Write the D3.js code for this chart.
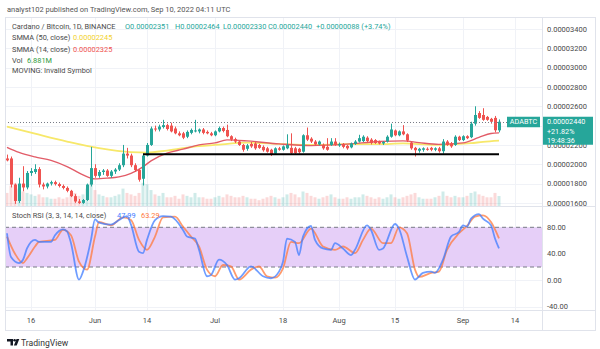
<!DOCTYPE html>
<html><head><meta charset="utf-8">
<script src="https://cdn.jsdelivr.net/npm/d3@7"></script>
<style>body{margin:0;background:#fff}text{font-family:Roboto,"Liberation Sans",sans-serif}</style>
</head><body><svg id="c" width="600" height="349"></svg>
<script>
// Prices in units of 1e-8 BTC (satoshi); daily candles from 2022-05-10
const startDate = "2022-05-10";
const opens = [2060,2060,1790,1620,1800,1760,1910,1920,1950,1790,1770,1800,1815,1795,1775,1755,1725,1670,1615,1600,1630,1790,1960,1880,1920,1935,1880,1925,1945,1990,2110,2090,1990,1940,1850,2090,2200,2370,2360,2385,2405,2400,2370,2320,2320,2285,2325,2345,2340,2360,2335,2320,2300,2340,2375,2355,2290,2260,2235,2200,2160,2210,2215,2200,2180,2165,2150,2110,2165,2150,2165,2170,2165,2160,2130,2300,2265,2235,2205,2200,2180,2200,2235,2195,2210,2190,2175,2210,2235,2240,2275,2255,2250,2235,2215,2235,2285,2350,2300,2340,2310,2225,2170,2140,2150,2160,2170,2150,2165,2135,2235,2215,2200,2285,2250,2290,2280,2420,2530,2510,2490,2470,2480,2351];
const highs = [2100,2080,1800,1860,1980,1930,1960,2000,1970,1810,1810,1830,1830,1810,1790,1770,1735,1690,1640,1640,1800,2180,2000,1940,1950,1950,1940,1960,2010,2200,2170,2110,2010,1950,2110,2220,2390,2400,2410,2460,2420,2430,2390,2340,2335,2350,2370,2460,2370,2375,2350,2335,2350,2390,2390,2410,2300,2275,2245,2210,2210,2230,2230,2210,2195,2180,2160,2175,2180,2195,2310,2320,2180,2170,2310,2380,2280,2250,2245,2215,2270,2270,2270,2225,2220,2200,2225,2250,2305,2300,2290,2270,2260,2245,2240,2300,2420,2360,2350,2405,2320,2235,2180,2170,2175,2175,2180,2175,2180,2260,2250,2230,2300,2295,2300,2300,2440,2600,2550,2580,2500,2480,2500,2464];
const lows = [2030,1760,1590,1600,1720,1740,1880,1900,1760,1740,1750,1780,1780,1760,1740,1710,1660,1600,1590,1590,1620,1770,1860,1860,1890,1870,1860,1900,1930,1970,2060,1970,1920,1820,1780,2080,2190,2340,2340,2370,2350,2330,2310,2290,2260,2270,2310,2330,2320,2310,2310,2290,2290,2330,2330,2280,2240,2220,2190,2130,2140,2170,2150,2160,2130,2120,2085,2100,2140,2140,2155,2100,2100,2110,2120,2240,2220,2190,2195,2150,2140,2190,2190,2180,2165,2150,2165,2200,2225,2230,2225,2205,2210,2205,2200,2225,2275,2290,2290,2300,2230,2150,2080,2120,2130,2140,2135,2135,2120,2110,2190,2170,2190,2240,2240,2260,2270,2400,2470,2450,2450,2420,2330,2330];
const closes = [2040,1790,1620,1800,1760,1910,1930,1950,1790,1770,1800,1815,1795,1775,1755,1725,1670,1615,1600,1630,1790,1960,1880,1920,1935,1880,1925,1945,1990,2110,2090,1990,1940,1840,2090,2200,2370,2360,2390,2405,2365,2340,2320,2300,2275,2335,2355,2350,2360,2325,2320,2300,2340,2375,2345,2290,2255,2235,2200,2150,2195,2185,2165,2170,2145,2130,2100,2165,2150,2185,2200,2115,2115,2125,2300,2255,2235,2205,2235,2165,2150,2235,2200,2210,2180,2165,2215,2235,2270,2285,2240,2220,2220,2215,2230,2285,2360,2300,2340,2310,2245,2165,2145,2160,2165,2155,2150,2165,2135,2235,2200,2185,2285,2250,2290,2270,2420,2510,2480,2460,2460,2440,2352,2440];
const volumes = [9,14,16,12,10,9,8,7,8,6,6,5,5,6,5,6,8,9,7,8,12,17,11,8,7,6,6,7,8,12,9,8,7,9,16,15,11,8,7,9,6,6,7,5,8,7,6,9,6,6,5,5,6,7,6,8,7,6,6,7,6,5,5,4,5,6,7,6,5,6,8,9,8,6,10,9,7,6,5,6,7,8,6,5,5,6,5,6,6,8,7,6,5,6,5,6,8,6,5,6,7,8,9,6,5,5,5,6,7,10,7,6,7,6,6,7,9,10,8,7,6,6,9,6.881];
// indicator readings: [day index, value]
const smma50 = [[0,2389],[7,2316],[15,2235],[23,2166],[31,2125],[35,2121],[40,2142],[48,2188],[52,2200],[60,2223],[68,2211],[76,2200],[85,2208],[93,2208],[99,2216],[107,2200],[111,2206],[116,2218],[119,2232],[123,2245]];
const smma14 = [[0,2175],[3,2123],[7,2076],[11,2040],[15,1976],[19,1890],[22,1849],[25,1856],[28,1870],[31,1906],[34,1973],[36,2035],[40,2115],[44,2156],[48,2200],[52,2221],[55,2252],[60,2242],[68,2211],[76,2193],[85,2208],[93,2235],[99,2242],[103,2224],[108,2206],[114,2221],[118,2278],[121,2319],[123,2325]];
const stochK = [[0,71],[1,35],[3,26],[4,31],[5,48],[7,61],[8,58],[11,58],[12,68],[14,77],[15,74],[16,56],[18,1],[19,13],[21,61],[22,92],[23,87],[26,84],[28,91],[30,97],[31,84],[33,43],[34,41],[35,61],[37,91],[39,97],[41,96],[44,76],[45,66],[47,63],[48,46],[50,6],[51,8],[53,31],[55,23],[57,1],[58,3],[61,21],[64,6],[66,3],[68,13],[69,28],[70,63],[72,58],[73,38],[74,66],[76,82],[77,61],[79,48],[81,46],[82,56],[84,48],[86,38],[87,46],[90,83],[91,76],[93,46],[94,48],[97,85],[98,78],[100,36],[102,1],[104,11],[106,13],[107,11],[109,31],[111,66],[113,73],[114,83],[115,81],[116,93],[118,100],[119,93],[121,83],[122,63],[123,47.99]];
const stochD = [[0,66],[2,40],[4,26],[5,33],[7,51],[8,58],[12,61],[14,76],[16,68],[18,28],[20,16],[22,66],[23,88],[26,83],[29,95],[31,91],[33,61],[35,46],[37,66],[39,95],[42,96],[44,81],[46,66],[48,51],[50,16],[52,6],[54,23],[56,21],[58,1],[61,16],[63,21],[65,6],[67,4],[69,18],[71,58],[73,56],[76,78],[79,51],[82,46],[84,51],[87,41],[89,61],[91,78],[94,56],[96,56],[98,80],[100,71],[102,16],[103,5],[106,11],[108,13],[110,46],[113,71],[115,82],[117,96],[119,98],[121,88],[123,63.29]];
const supportLevel = 2104, supportFrom = 34, supportTo = 123;
const priceTicks = [1600,1800,2000,2200,2400,2600,2800,3000,3200,3400];
const stochTicks = [80,40,0,-40];
const bandLevels = [80,20];
const dateTicks = [["2022-05-16","16"],["2022-06-01","Jun"],["2022-06-14","14"],["2022-07-01","Jul"],["2022-07-18","18"],["2022-08-01","Aug"],["2022-08-15","15"],["2022-09-01","Sep"],["2022-09-14","14"]];

const svg = d3.select("#c");
svg.append("rect").attr("width",600).attr("height",349).attr("fill","#fff");
const L=5, R=542, FR=595, mTop=17, mBot=206, sBot=310, aBot=330;
const parse = d3.timeParse("%Y-%m-%d");
const t0 = parse(startDate);
const x = d3.scaleTime().domain([parse("2022-05-10"),parse("2022-09-10")]).range([7,499]);
const xi = i => x(d3.timeDay.offset(t0,i));
const y = d3.scaleLinear().domain([1600,3400]).range([202.9,29]);
const yv = d3.scaleLinear().domain([0,40]).range([mBot,148]);
const ys = d3.scaleLinear().domain([-40,80]).range([306.7,227.3]);
const fmtP = v => (v*1e-8).toFixed(8);
const last = closes[closes.length-1];
const yl = y(last);

const defs = svg.append("defs");
defs.append("clipPath").attr("id","cm").append("rect").attr("x",L).attr("y",mTop).attr("width",R-L).attr("height",mBot-mTop);
defs.append("clipPath").attr("id","cs").append("rect").attr("x",L).attr("y",mBot+1).attr("width",R-L).attr("height",sBot-mBot-1);
defs.append("clipPath").attr("id","cpa").append("rect").attr("x",R).attr("y",mTop).attr("width",FR-R).attr("height",mBot-mTop);
defs.append("clipPath").attr("id","csa").append("rect").attr("x",R).attr("y",mBot+1).attr("width",FR-R).attr("height",sBot-mBot-1);

// grid
const grid = svg.append("g").attr("stroke","#f0f2f7").attr("stroke-width",1);
priceTicks.forEach(p=>grid.append("line").attr("x1",L).attr("x2",R).attr("y1",Math.round(y(p))+0.5).attr("y2",Math.round(y(p))+0.5));
stochTicks.forEach(v=>grid.append("line").attr("x1",L).attr("x2",R).attr("y1",Math.round(ys(v))+0.5).attr("y2",Math.round(ys(v))+0.5));
dateTicks.forEach(d=>grid.append("line").attr("x1",Math.round(x(parse(d[0])))+0.5).attr("x2",Math.round(x(parse(d[0])))+0.5).attr("y1",mTop).attr("y2",sBot));

// main pane
const gm = svg.append("g").attr("clip-path","url(#cm)");
gm.selectAll(".vol").data(volumes).join("rect")
  .attr("x",(d,i)=>xi(i)-1.5).attr("width",3)
  .attr("y",d=>yv(d)).attr("height",d=>mBot-yv(d))
  .attr("fill",(d,i)=>closes[i]>=opens[i]?"rgba(38,166,154,0.22)":"rgba(239,83,80,0.22)");
const line = d3.line().x(d=>xi(d[0])).curve(d3.curveMonotoneX);
gm.append("path").datum(smma50).attr("d",line.y(d=>y(d[1]))).attr("fill","none").attr("stroke","#f7e86a").attr("stroke-width",1.8);
gm.append("path").datum(smma14).attr("d",line.y(d=>y(d[1]))).attr("fill","none").attr("stroke","#e25c68").attr("stroke-width",1.4);
const cg = gm.selectAll(".c").data(opens).join("g");
cg.append("line").attr("x1",(d,i)=>Math.round(xi(i))+0.5).attr("x2",(d,i)=>Math.round(xi(i))+0.5)
  .attr("y1",(d,i)=>y(highs[i])).attr("y2",(d,i)=>y(lows[i]))
  .attr("stroke",(d,i)=>closes[i]>=opens[i]?"#26a69a":"#ef5350");
cg.append("rect").attr("x",(d,i)=>Math.round(xi(i))-1).attr("width",3)
  .attr("y",(d,i)=>y(Math.max(opens[i],closes[i])))
  .attr("height",(d,i)=>Math.max(1,Math.abs(y(opens[i])-y(closes[i]))))
  .attr("fill",(d,i)=>closes[i]>=opens[i]?"#26a69a":"#ef5350");
gm.append("line").attr("x1",xi(supportFrom)).attr("x2",xi(supportTo)).attr("y1",y(supportLevel)).attr("y2",y(supportLevel)).attr("stroke","#000").attr("stroke-width",2);
gm.append("line").attr("x1",L).attr("x2",R).attr("y1",Math.round(yl)+0.5).attr("y2",Math.round(yl)+0.5)
  .attr("stroke","#787b86").attr("stroke-dasharray","1,2");

// stoch pane
const gs = svg.append("g").attr("clip-path","url(#cs)");
gs.append("rect").attr("x",L).attr("width",R-L).attr("y",ys(bandLevels[0])).attr("height",ys(bandLevels[1])-ys(bandLevels[0])).attr("fill","#e6cff8");
bandLevels.forEach(v=>gs.append("line").attr("x1",L).attr("x2",R).attr("y1",ys(v)).attr("y2",ys(v)).attr("stroke","#787b86").attr("stroke-dasharray","4,3"));
gs.append("path").datum(stochD).attr("d",line.y(d=>ys(d[1]))).attr("fill","none").attr("stroke","#ff7a3c").attr("stroke-opacity",0.75).attr("stroke-width",1.8);
gs.append("path").datum(stochK).attr("d",line.y(d=>ys(d[1]))).attr("fill","none").attr("stroke","#3f7cff").attr("stroke-opacity",0.75).attr("stroke-width",1.8);

// frame & separators
const fr = svg.append("g").attr("stroke","#e0e3eb").attr("fill","none");
fr.append("rect").attr("x",L+0.5).attr("y",mTop+0.5).attr("width",FR-L).attr("height",aBot-mTop);
fr.append("line").attr("x1",R+0.5).attr("x2",R+0.5).attr("y1",mTop).attr("y2",aBot);
fr.append("line").attr("x1",L).attr("x2",FR).attr("y1",mBot+0.5).attr("y2",mBot+0.5);
fr.append("line").attr("x1",L).attr("x2",FR).attr("y1",sBot+0.5).attr("y2",sBot+0.5);

// price axis (labels hidden under the last-price box are skipped, as in the source)
const pa = svg.append("g").attr("clip-path","url(#cpa)");
pa.selectAll("text").data(priceTicks.filter(p=>Math.abs(y(p)-(yl+9))>12)).join("text").attr("x",547).attr("y",d=>y(d)).attr("dy","0.35em")
  .attr("font-size",7.5).attr("fill","#4a4a4a").text(d=>fmtP(d));
const sa = svg.append("g").attr("clip-path","url(#csa)");
sa.selectAll("text").data(stochTicks).join("text").attr("x",547).attr("y",d=>ys(d)).attr("dy","0.35em")
  .attr("font-size",7.5).attr("fill","#4a4a4a").text(d=>d.toFixed(2));
// time axis
svg.append("g").selectAll("text").data(dateTicks).join("text").attr("x",d=>x(parse(d[0]))).attr("y",320).attr("dy","0.35em")
  .attr("text-anchor","middle").attr("font-size",7.5).attr("fill","#4a4a4a").text(d=>d[1]);

// last price labels
svg.append("rect").attr("x",507).attr("y",yl-5).attr("width",33).attr("height",10.5).attr("fill","#26a69a");
svg.append("text").attr("x",523.5).attr("y",yl).attr("dy","0.35em").attr("text-anchor","middle").attr("font-size",7.2).attr("fill","#fff").text("ADABTC");
svg.append("rect").attr("x",543).attr("y",yl-5).attr("width",50).attr("height",28).attr("fill","#26a69a");
const lt = svg.append("g").attr("font-size",7.2).attr("fill","#fff");
lt.append("text").attr("x",547).attr("y",yl).attr("dy","0.35em").text(fmtP(last));
lt.append("text").attr("x",547).attr("y",yl+9.3).attr("dy","0.35em").text("+21.82%");
lt.append("text").attr("x",547).attr("y",yl+18.3).attr("dy","0.35em").text("19:48:36");

// header
svg.append("text").attr("x",7).attr("y",9.5).attr("dy","0.35em").attr("font-size",7.5).attr("fill","#555").text("analyst102 published on TradingView.com, Sep 10, 2022 04:11 UTC");
const hd = svg.append("g").attr("font-size",7.4);
const up = "#26a69a";
hd.append("text").attr("x",12).attr("y",26).attr("dy","0.35em").attr("fill","#4a4a4a").text("Cardano / Bitcoin, 1D, BINANCE");
[["O",opens,125],["H",highs,175],["L",lows,223],["C",closes,268]].forEach(p=>{
  hd.append("text").attr("x",p[2]).attr("y",26).attr("dy","0.35em").attr("fill",up).text(p[0]+fmtP(p[1][p[1].length-1]));
});
hd.append("text").attr("x",316).attr("y",26).attr("dy","0.35em").attr("fill",up).text("+0.00000088 (+3.74%)");
hd.append("text").attr("x",12).attr("y",37.7).attr("dy","0.35em").attr("fill","#4a4a4a").text("SMMA (50, close)");
hd.append("text").attr("x",73).attr("y",37.7).attr("dy","0.35em").attr("fill","#f2d22e").text(fmtP(smma50[smma50.length-1][1]));
hd.append("text").attr("x",12).attr("y",49).attr("dy","0.35em").attr("fill","#4a4a4a").text("SMMA (14, close)");
hd.append("text").attr("x",73).attr("y",49).attr("dy","0.35em").attr("fill","#ef5350").text(fmtP(smma14[smma14.length-1][1]));
hd.append("text").attr("x",12).attr("y",60).attr("dy","0.35em").attr("fill","#4a4a4a").text("Vol");
hd.append("text").attr("x",27).attr("y",60).attr("dy","0.35em").attr("fill","#2e9b3c").text(volumes[volumes.length-1].toFixed(3)+"M");
hd.append("text").attr("x",12).attr("y",70.7).attr("dy","0.35em").attr("fill","#4a4a4a").text("MOVING: Invalid Symbol");
const sh = svg.append("g").attr("font-size",7.4);
sh.append("text").attr("x",12).attr("y",215).attr("dy","0.35em").attr("fill","#4a4a4a").text("Stoch RSI (3, 3, 14, 14, close)");
sh.append("text").attr("x",117).attr("y",215).attr("dy","0.35em").attr("fill","#3f7cff").text(stochK[stochK.length-1][1].toFixed(2));
sh.append("text").attr("x",141).attr("y",215).attr("dy","0.35em").attr("fill","#ff7a3c").text(stochD[stochD.length-1][1].toFixed(2));

// logo
const lg = svg.append("g").attr("fill","#131722");
lg.append("path").attr("d","M7,339 h6 v6.5 h-2.5 v-4 h-3.5 z");
lg.append("circle").attr("cx",14.6).attr("cy",340.3).attr("r",1.3);
lg.append("path").attr("d","M16.5,339 h2.8 l-2.6,6.5 h-2.8 z");
svg.append("text").attr("x",21).attr("y",342.5).attr("dy","0.35em").attr("font-size",8.6).attr("fill","#333").text("TradingView");
</script></body></html>
